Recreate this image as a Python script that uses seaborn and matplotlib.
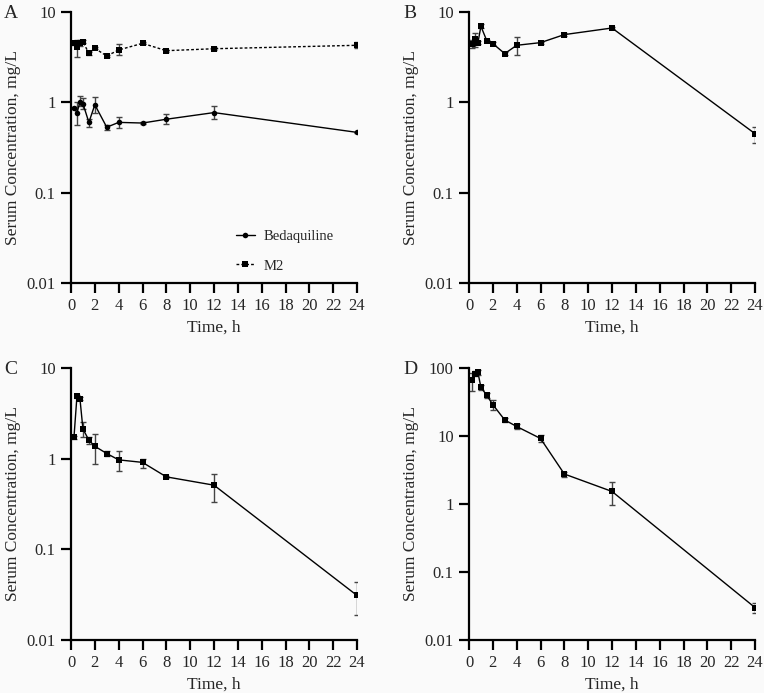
import numpy as np
import pandas as pd
import matplotlib
matplotlib.use("Agg")
import matplotlib.pyplot as plt
import seaborn as sns
from matplotlib.ticker import FixedLocator, FixedFormatter, NullLocator

# sampling times (h)
times = [0.25, 0.5, 0.75, 1, 1.5, 2, 3, 4, 6, 8, 12, 24]

# Panel A: bedaquiline and M2
a_bdq = [0.87, 0.77, 1.0, 0.97, 0.60, 0.94, 0.53, 0.60, 0.59, 0.65, 0.77, 0.465]
a_bdq_lo = [0.85, 0.56, 0.90, 0.85, 0.54, 0.76, 0.50, 0.52, 0.57, 0.575, 0.66, 0.455]
a_bdq_hi = [0.89, 1.0, 1.18, 1.12, 0.66, 1.15, 0.56, 0.68, 0.61, 0.74, 0.90, 0.475]
a_m2 = [4.57, 4.1, 4.5, 4.69, 3.49, 3.96, 3.26, 3.8, 4.5, 3.73, 3.92, 4.28]
a_m2_lo = [4.3, 3.2, 4.2, 4.5, 3.35, 3.85, 3.15, 3.34, 4.4, 3.65, 3.8, 3.95]
a_m2_hi = [4.8, 4.9, 4.9, 4.85, 3.6, 4.05, 3.35, 4.4, 4.6, 3.8, 4.05, 4.6]

# Panel B
b_val = [4.47, 4.99, 4.58, 6.95, 4.78, 4.47, 3.46, 4.28, 4.58, 5.62, 6.65, 0.45]
b_lo = [4.0, 4.1, 4.4, 6.6, 4.6, 4.3, 3.3, 3.3, 4.45, 5.45, 6.5, 0.355]
b_hi = [4.9, 5.9, 4.8, 7.3, 4.95, 4.65, 3.65, 5.3, 4.7, 5.8, 6.8, 0.53]

# Panel C
c_val = [1.73, 4.9, 4.6, 2.13, 1.6, 1.37, 1.14, 0.97, 0.91, 0.63, 0.51, 0.031]
c_lo = [1.65, 4.7, 4.4, 1.73, 1.45, 0.88, 1.08, 0.74, 0.79, 0.61, 0.33, 0.019]
c_hi = [1.8, 5.1, 4.8, 2.54, 1.75, 1.86, 1.2, 1.2, 1.0, 0.65, 0.68, 0.044]

# Panel D
d_val = [65.8, 82.5, 86, 51.9, 39.5, 28.9, 17.2, 13.8, 9.2, 2.76, 1.53, 0.030]
d_lo = [45.3, 75, 80, 48, 36, 24, 16.2, 12.5, 8.2, 2.5, 0.96, 0.025]
d_hi = [84.4, 90, 92, 56, 43, 34.2, 18.2, 15.2, 10.2, 3.0, 2.1, 0.035]

x_ticks = list(range(0, 25, 2))

sns.set_style("ticks")
plt.rcParams['font.family'] = ['Liberation Serif', 'DejaVu Serif']
plt.rcParams['font.size'] = 12

BG = '#fafafa'
fig = plt.figure(figsize=(7.64, 6.93), dpi=100, facecolor=BG)

W, H = 764, 693
def make_ax(left, top, right, bottom):
    return fig.add_axes([left / W, 1 - bottom / H, (right - left) / W, (bottom - top) / H])

axA = make_ax(71, 12, 357, 283)
axB = make_ax(469, 12, 755, 283)
axC = make_ax(71, 368, 357, 640)
axD = make_ax(469, 368, 755, 640)


def draw(ax, vals, lo, hi, marker='s', ls='-', label=None, ms=4.5):
    df = pd.DataFrame({'time': times, 'conc': vals})
    vals = np.array(vals)
    yerr = [vals - np.array(lo), np.array(hi) - vals]
    ax.errorbar(times, vals, yerr=yerr, fmt='none', ecolor='#444444',
                elinewidth=1.0, capsize=2.5, capthick=1.0, zorder=2)
    sns.lineplot(data=df, x='time', y='conc', ax=ax, color='black',
                 linewidth=1.0, linestyle=ls, marker=marker, markersize=ms,
                 markeredgewidth=0, label=label, zorder=3)


def style(ax, ymin, ymax, letter, letter_xy):
    ax.set_facecolor(BG)
    ax.set_yscale('log')
    ax.set_xlim(0, 24)
    ax.set_ylim(ymin, ymax)
    dec = [10.0 ** k for k in range(int(np.log10(ymin)), int(np.log10(ymax)) + 1)]
    labs = [('%g' % v) for v in dec]
    ax.yaxis.set_major_locator(FixedLocator(dec))
    ax.yaxis.set_major_formatter(FixedFormatter(labs))
    ax.yaxis.set_minor_locator(NullLocator())
    ax.set_xticks(x_ticks)
    ax.set_xticklabels([str(t) for t in x_ticks])
    for s in ['top', 'right']:
        ax.spines[s].set_visible(False)
    for s in ['left', 'bottom']:
        ax.spines[s].set_linewidth(1.6)
        ax.spines[s].set_color('black')
    ax.tick_params(axis='both', direction='out', length=7, width=1.6,
                   color='black', labelsize=12, pad=4)
    ax.set_xlabel('Time, h', fontsize=12.5, labelpad=4)
    ax.set_ylabel('Serum Concentration, mg/L', fontsize=12.5, labelpad=4)
    fig.text(letter_xy[0] / W, 1 - letter_xy[1] / H, letter, fontsize=14,
             ha='left', va='center')


draw(axA, a_bdq, a_bdq_lo, a_bdq_hi, marker='o', ls='-', label='Bedaquiline', ms=4)
draw(axA, a_m2, a_m2_lo, a_m2_hi, marker='s', ls=(0, (2, 1.5)), label='M2')
leg = axA.legend(loc='lower left', bbox_to_anchor=(0.53, -0.01), frameon=False,
                 fontsize=10.5, handlelength=1.3, handletextpad=0.6,
                 labelspacing=1.1)

draw(axB, b_val, b_lo, b_hi)
draw(axC, c_val, c_lo, c_hi)
draw(axD, d_val, d_lo, d_hi)

style(axA, 0.01, 10, 'A', (4, 14))
style(axB, 0.01, 10, 'B', (403, 14))
style(axC, 0.01, 10, 'C', (4, 370))
style(axD, 0.01, 100, 'D', (403, 370))

fig.savefig('out.png', dpi=100, facecolor=BG)
